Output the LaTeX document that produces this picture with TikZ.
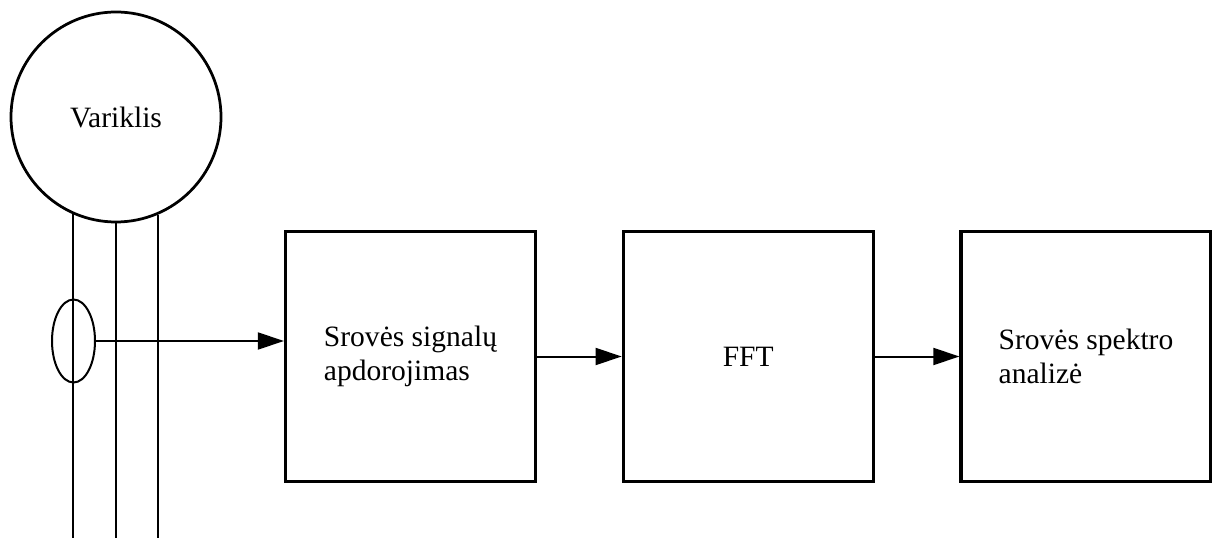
\documentclass[tikz,border=0pt]{standalone}
\usepackage{fontspec}
\setmainfont{Liberation Serif}
\usetikzlibrary{arrows.meta, shapes.geometric, positioning}

\begin{document}
\begin{tikzpicture}[
	block/.style={draw, line width=0.065cm, minimum size=5cm, align=left, inner sep=0pt},
	wire/.style={line width=0.04cm},
	>={Triangle[length=0.52cm, width=0.34cm]},
	font=\fontsize{16.8}{19}\selectfont
]
	\useasboundingbox (0, 0) rectangle (24.24, 10.76);
	\coordinate (base) at (0, 0);

	% motor and its three supply wires
	\node[circle, draw, line width=0.055cm, minimum size=4.2cm] (motor) at (2.32, 8.42) {Variklis};
	\foreach \a in {246, 270, 293}
		\draw[wire] (motor.\a) -- (motor.\a |- base);

	% current sensor around the first wire
	\node[ellipse, draw, wire, minimum width=0.86cm, minimum height=1.66cm, inner sep=0pt] (sensor) at (1.47, 3.94) {};

	% processing chain
	\node[block] (proc) at (8.21, 3.63) {Srovės signalų\\apdorojimas};
	\node[block, right=1.69cm of proc] (fft) {FFT};
	\node[block, right=1.69cm of fft] (spec) {Srovės spektro\\analizė};

	\draw[->, wire] (sensor.east) -- (sensor.east -| proc.west);
	\draw[->, wire] (proc) -- (fft);
	\draw[->, wire] (fft) -- (spec);
\end{tikzpicture}
\end{document}
